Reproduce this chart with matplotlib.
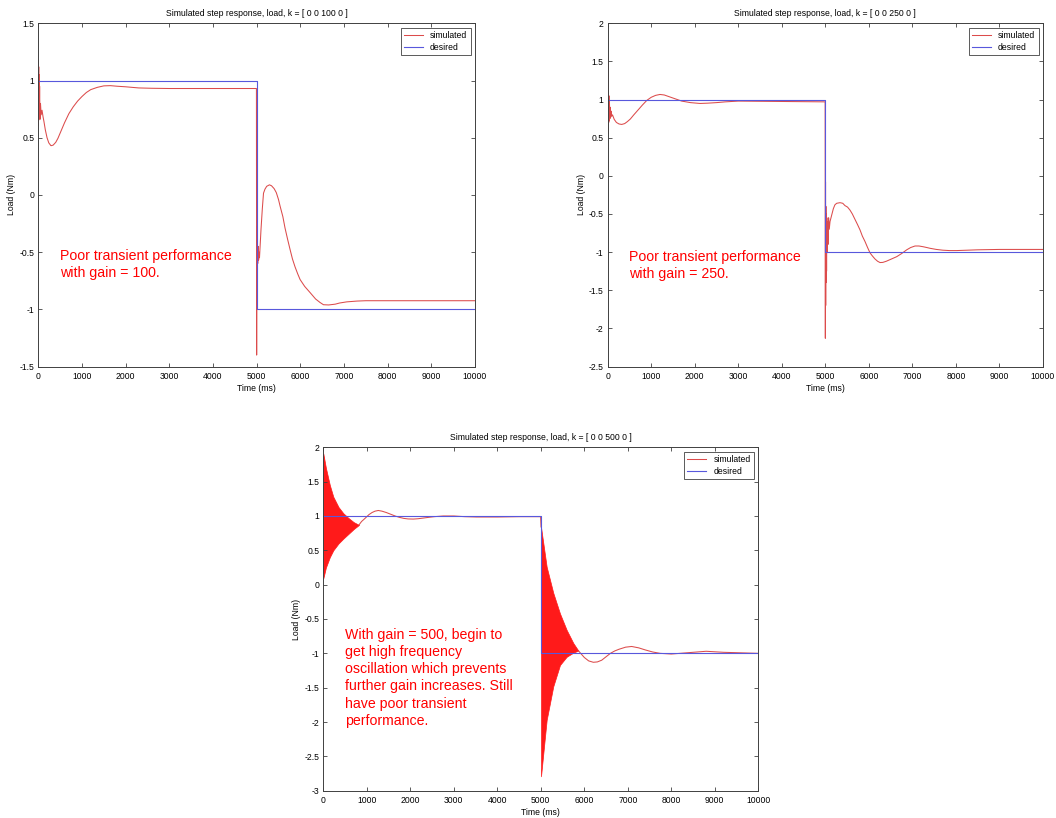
import matplotlib
matplotlib.use("Agg")
import matplotlib.pyplot as plt
from matplotlib.ticker import FuncFormatter

plt.rcParams['font.family'] = ['Liberation Sans', 'DejaVu Sans']
plt.rcParams['axes.unicode_minus'] = False

# ---------------- data ----------------
titles = ["Simulated step response, load, k = [ 0 0 100 0 ]",
          "Simulated step response, load, k = [ 0 0 250 0 ]",
          "Simulated step response, load, k = [ 0 0 500 0 ]"]
notes = ["Poor transient performance\nwith gain = 100.",
         "Poor transient performance\nwith gain = 250.",
         "With gain = 500, begin to\nget high frequency\noscillation which prevents\nfurther gain increases. Still\nhave poor transient\nperformance."]

desired_t = [0, 5000, 5000, 10000]
desired_v = [1, 1, -1, -1]

# gain 100
sim1_t = [0, 3, 6, 10, 14, 18, 24, 30, 38, 50, 65, 85, 110, 130, 160, 200, 240, 290,
          340, 400, 450, 500, 550, 600, 650, 700, 750, 800, 900, 1000, 1100, 1200, 1350,
          1500, 1650, 1800, 2000, 2300, 2600, 3000, 4995,
          5000, 5005, 5010, 5015, 5025, 5035, 5045, 5055, 5065, 5100, 5130, 5157, 5190,
          5230, 5293, 5340, 5400, 5450, 5500, 5538, 5600, 5650, 5710, 5767, 5820, 5880,
          5940, 5995, 6100, 6224, 6350, 6450, 6530, 6650, 6800, 6900, 7063, 7300, 7500,
          10000]
sim1_v = [0.61, 1.18, 0.65, 1.12, 0.70, 1.05, 0.72, 0.95, 0.66, 0.80, 0.70, 0.74, 0.68,
          0.64, 0.57, 0.50, 0.455, 0.43, 0.435, 0.46, 0.495, 0.54, 0.585, 0.63, 0.67, 0.71,
          0.74, 0.77, 0.82, 0.86, 0.895, 0.92, 0.94, 0.953, 0.955, 0.95, 0.945, 0.935,
          0.932, 0.93, 0.93,
          -1.40, -0.28, -1.0, -0.42, -0.60, -0.45, -0.57, -0.50, -0.55, -0.30, -0.12,
          0.015, 0.05, 0.075, 0.088, 0.08, 0.055, 0.02, -0.04, -0.10, -0.19, -0.29, -0.39,
          -0.48, -0.56, -0.63, -0.69, -0.74, -0.80, -0.854, -0.91, -0.94, -0.96, -0.962,
          -0.955, -0.945, -0.935, -0.928, -0.925, -0.925]

# gain 250
sim2_t = [0, 3, 6, 10, 14, 18, 23, 28, 34, 40, 48, 56, 65, 75, 90, 110, 150, 200, 260,
          322, 390, 450, 520, 600, 700, 800, 900, 1000, 1100, 1201, 1300, 1400, 1550,
          1700, 1900, 2120, 2300, 2500, 2700, 3000, 4000, 4995,
          5000, 5004, 5008, 5012, 5016, 5022, 5028, 5035, 5042, 5050, 5060, 5075, 5090,
          5107, 5184, 5220, 5260, 5337, 5400, 5450, 5510, 5567, 5620, 5680, 5740, 5797,
          5850, 5910, 5970, 6026, 6080, 6140, 6200, 6256, 6320, 6400, 6520, 6639, 6750,
          6869, 6960, 7060, 7150, 7250, 7330, 7404, 7550, 7700, 7850, 8017, 8500, 9000,
          10000]
sim2_v = [0.51, 1.56, 0.55, 1.15, 0.62, 1.10, 0.70, 1.05, 0.72, 0.97, 0.75, 0.90, 0.76,
          0.85, 0.78, 0.80, 0.74, 0.70, 0.68, 0.674, 0.685, 0.71, 0.745, 0.80, 0.865,
          0.93, 0.99, 1.03, 1.055, 1.067, 1.06, 1.04, 1.01, 0.98, 0.96, 0.949, 0.953,
          0.96, 0.97, 0.98, 0.975, 0.97,
          -2.13, -0.08, -1.70, -0.40, -1.40, -0.50, -1.25, -0.55, -1.00, -0.60, -0.90,
          -0.55, -0.70, -0.60, -0.43, -0.38, -0.36, -0.352, -0.36, -0.39, -0.41, -0.45,
          -0.50, -0.57, -0.64, -0.71, -0.79, -0.86, -0.94, -1.01, -1.05, -1.09, -1.12,
          -1.137, -1.135, -1.12, -1.09, -1.06, -1.02, -0.97, -0.94, -0.92, -0.92, -0.93,
          -0.94, -0.95, -0.965, -0.975, -0.98, -0.98, -0.97, -0.965, -0.965]

# gain 500: high-frequency envelopes + smooth parts
env3a_t = [0, 60, 150, 230, 350, 460, 580, 700, 820]
env3a_up = [1.91, 1.70, 1.45, 1.28, 1.13, 1.04, 0.97, 0.91, 0.87]
env3a_lo = [0.09, 0.25, 0.40, 0.50, 0.60, 0.67, 0.74, 0.81, 0.87]
env3b_t = [5005, 5135, 5287, 5441, 5595, 5747, 5862]
env3b_up = [0.84, 0.26, -0.12, -0.42, -0.66, -0.85, -0.96]
env3b_lo = [-2.79, -1.97, -1.48, -1.17, -1.05, -0.99, -0.96]
sim3_t = [820, 880, 950, 1050, 1120, 1188, 1264, 1350, 1450, 1550, 1650, 1750, 1850,
          1950, 2069, 2180, 2300, 2420, 2550, 2759, 3000, 3250, 3525, 4000, 4500, 4995,
          5005]
sim3_v = [0.87, 0.92, 0.96, 1.02, 1.05, 1.07, 1.08, 1.07, 1.05, 1.025, 1.00, 0.98,
          0.965, 0.957, 0.955, 0.96, 0.97, 0.98, 0.99, 1.00, 1.00, 0.99, 0.985, 0.985,
          0.99, 0.99, 0.84]
sim3b_t = [5862, 5930, 6000, 6100, 6207, 6300, 6400, 6500, 6600, 6700, 6800, 6950, 7089,
           7250, 7400, 7570, 7740, 8000, 8400, 8800, 9200, 10000]
sim3b_v = [-0.96, -1.01, -1.06, -1.11, -1.13, -1.125, -1.10, -1.05, -1.00, -0.965,
           -0.94, -0.91, -0.90, -0.92, -0.95, -0.98, -1.00, -1.01, -0.99, -0.97, -0.985,
           -1.0]

ylims = [(-1.5, 1.5), (-2.5, 2.0), (-3.0, 2.0)]
note_pos = [(500, -0.47), (490, -0.97), (500, -0.625)]

# ---------------- figure ----------------
W, H = 1056, 818
fig = plt.figure(figsize=(W / 100, H / 100), dpi=100)

def px_axes(l, t, r, b):
    return fig.add_axes([l / W, 1 - b / H, (r - l) / W, (b - t) / H])

axes = [px_axes(38.3, 23.3, 475, 366.5),
        px_axes(607.7, 23.3, 1043, 366.5),
        px_axes(323.3, 447.3, 758.3, 790.7)]

SIM_C = '#dc4b4b'
DES_C = '#5858dc'
SMALL = 6.2

for i, ax in enumerate(axes):
    if i == 0:
        ax.plot(sim1_t, sim1_v, color=SIM_C, lw=0.75, label='simulated')
    elif i == 1:
        ax.plot(sim2_t, sim2_v, color=SIM_C, lw=0.75, label='simulated')
    else:
        ax.fill_between(env3a_t, env3a_lo, env3a_up, color='#ff1a1a', lw=0.5,
                        edgecolor='#ff1a1a')
        ax.fill_between(env3b_t, env3b_lo, env3b_up, color='#ff1a1a', lw=0.5,
                        edgecolor='#ff1a1a')
        ax.plot(sim3_t, sim3_v, color=SIM_C, lw=0.75, label='simulated')
        ax.plot(sim3b_t, sim3b_v, color=SIM_C, lw=0.75)
    ax.plot(desired_t, desired_v, color=DES_C, lw=0.8, label='desired')

    ax.set_xlim(0, 10000)
    ax.set_ylim(*ylims[i])
    ax.set_xticks(range(0, 10001, 1000))
    lo, hi = ylims[i]
    n = int(round((hi - lo) / 0.5))
    ax.set_yticks([lo + 0.5 * k for k in range(n + 1)])
    ax.yaxis.set_major_formatter(FuncFormatter(lambda v, p: '%g' % v))
    ax.tick_params(direction='in', top=True, right=True, length=3.2, width=0.6,
                   labelsize=SMALL, color='#404040', pad=3)
    ax.tick_params(axis='x', pad=4)
    for s in ax.spines.values():
        s.set_color('#404040')
        s.set_linewidth(0.7)
    ax.set_title(titles[i], fontsize=SMALL, pad=5)
    ax.set_xlabel('Time (ms)', fontsize=SMALL, labelpad=2)
    ax.set_ylabel('Load (Nm)', fontsize=SMALL, labelpad=2)
    leg = ax.legend(loc='upper right', fontsize=SMALL, fancybox=False,
                    edgecolor='#404040', framealpha=1, handlelength=2.2,
                    borderaxespad=0.5, borderpad=0.4, labelspacing=0.3,
                    handletextpad=0.8)
    leg.get_frame().set_linewidth(0.6)
    ax.text(note_pos[i][0], note_pos[i][1], notes[i], color='#ff0000', fontsize=10.2,
            va='top', ha='left', linespacing=1.3)

fig.savefig('out.png', dpi=100)
